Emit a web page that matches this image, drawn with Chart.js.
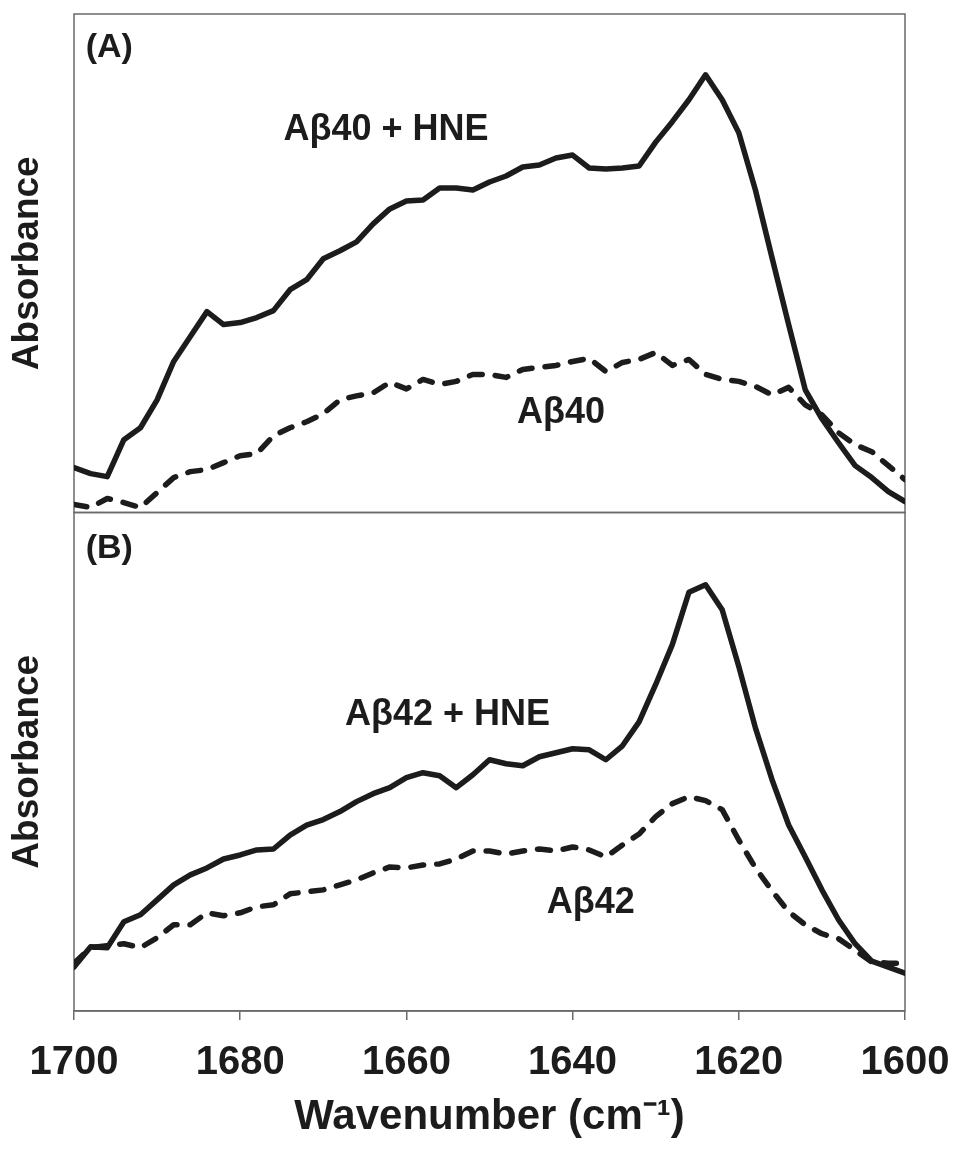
<!DOCTYPE html>
<html>
<head>
<meta charset="utf-8">
<script src="https://cdn.jsdelivr.net/npm/chart.js@4.4.1/dist/chart.umd.min.js"></script>
<style>
  html, body { margin: 0; padding: 0; background: #ffffff; }
  #c { display: block; }
</style>
</head>
<body>
<canvas id="c" width="953" height="1151"></canvas>
<script>
// ---- data (absorbance in arbitrary units, 0-100 per panel) ----
const wavenumbers = [1700,1698,1696,1694,1692,1690,1688,1686,1684,1682,1680,1678,1676,1674,1672,1670,1668,1666,1664,1662,1660,1658,1656,1654,1652,1650,1648,1646,1644,1642,1640,1638,1636,1634,1632,1630,1628,1626,1624,1622,1620,1618,1616,1614,1612,1610,1608,1606,1604,1602,1600];

// Panel A
const ab40HNE = [9.0,7.8,7.2,14.6,17.0,22.6,30.3,35.3,40.3,37.7,38.1,39.1,40.5,44.7,46.7,50.9,52.5,54.3,57.9,60.9,62.5,62.7,65.1,65.1,64.7,66.3,67.5,69.3,69.7,71.1,71.7,69.1,68.9,69.1,69.5,74.3,78.4,82.8,87.8,82.8,76.2,64.7,51.1,37.7,24.6,18.8,14.0,9.4,7.0,4.2,2.2];
const ab40 = [1.6,1.0,2.8,2.0,1.0,4.0,7.0,8.2,8.6,10.0,11.4,11.8,15.4,17.0,18.2,19.8,22.6,23.4,24.0,26.1,24.8,26.7,25.7,26.3,27.7,27.7,27.1,28.7,29.1,29.5,30.3,30.9,28.3,30.1,30.7,32.1,29.5,30.7,27.7,26.7,26.3,25.3,23.6,25.1,21.6,19.6,16.0,13.6,12.2,9.4,6.6];

// Panel B
const ab42HNE = [8.8,12.9,12.7,17.9,19.3,22.3,25.3,27.3,28.7,30.5,31.3,32.3,32.5,35.3,37.3,38.4,40.0,42.0,43.6,44.8,46.8,47.8,47.2,44.8,47.4,50.4,49.6,49.2,51.0,51.8,52.6,52.4,50.4,53.2,58.0,65.5,73.5,84.0,85.5,80.5,69.1,56.8,46.4,37.3,30.9,24.3,18.3,13.5,10.0,8.8,7.6];
const ab42 = [9.6,12.7,13.1,13.5,12.7,14.7,17.3,17.3,19.7,19.1,19.7,20.9,21.3,23.5,23.9,24.3,25.3,26.3,27.7,28.9,28.7,29.3,29.5,30.5,32.1,32.1,31.5,32.1,32.5,32.1,32.9,32.3,30.9,33.3,35.5,39.0,41.6,43.0,42.2,40.4,34.3,28.7,24.1,19.9,17.3,15.5,14.5,12.2,9.8,9.6,9.6];

const xTickValues = [1700, 1680, 1660, 1640, 1620, 1600];
const panelLabels = ['(A)', '(B)'];
const seriesLabels = ['A\u03B240 + HNE', 'A\u03B240', 'A\u03B242 + HNE', 'A\u03B242'];

// ---- styling / layout ----
const FONT = '"Liberation Sans", Arial, Helvetica, sans-serif';
const INK = '#1c1c1c';
const FRAME = '#6a6a6a';

function pts(arr) { return wavenumbers.map((w, i) => ({ x: w, y: arr[i] })); }

// text annotations placed in data coordinates of each panel
const annotations = [
  { text: panelLabels[0], axis: 'yA', w: 1698.6, v: 93.2, size: 34 },
  { text: panelLabels[1], axis: 'yB', w: 1698.6, v: 92.8, size: 34 },
  { text: seriesLabels[0], axis: 'yA', w: 1674.8, v: 76.8, size: 36 },
  { text: seriesLabels[1], axis: 'yA', w: 1646.7, v: 20.0, size: 36 },
  { text: seriesLabels[2], axis: 'yB', w: 1667.4, v: 59.4, size: 36 },
  { text: seriesLabels[3], axis: 'yB', w: 1643.1, v: 21.7, size: 36 }
];

const framePlugin = {
  id: 'frame',
  beforeDatasetsDraw(chart) {
    const { ctx, chartArea } = chart;
    ctx.save();
    ctx.strokeStyle = FRAME;
    ctx.lineWidth = 1.5;
    ['yA', 'yB'].forEach(id => {
      const s = chart.scales[id];
      ctx.strokeRect(chartArea.left, s.top, chartArea.right - chartArea.left, s.bottom - s.top);
    });
    ctx.restore();
  }
};

const textPlugin = {
  id: 'texts',
  afterDatasetsDraw(chart) {
    const { ctx } = chart;
    const x = chart.scales.x;
    ctx.save();
    ctx.fillStyle = INK;
    ctx.textAlign = 'left';
    ctx.textBaseline = 'middle';
    annotations.forEach(a => {
      ctx.font = 'bold ' + a.size + 'px ' + FONT;
      ctx.fillText(a.text, x.getPixelForValue(a.w), chart.scales[a.axis].getPixelForValue(a.v));
    });
    ctx.restore();
  }
};

function yAxis() {
  return {
    type: 'linear',
    position: 'left',
    stack: 'panels',
    stackWeight: 1,
    min: 0,
    max: 100,
    ticks: { display: false },
    grid: { display: false },
    border: { display: false },
    title: {
      display: true,
      text: 'Absorbance',
      color: INK,
      font: { family: FONT, size: 37, weight: 'bold' },
      padding: { top: 6, bottom: 0 }
    },
    afterFit(scale) { scale.width = 74; scale.paddingTop = 0; scale.paddingBottom = 0; }
  };
}

const lineCommon = {
  borderColor: INK,
  borderWidth: 5.5,
  pointRadius: 0,
  tension: 0,
  fill: false,
  borderCapStyle: 'round',
  borderJoinStyle: 'round',
  xAxisID: 'x'
};

new Chart(document.getElementById('c'), {
  type: 'line',
  data: {
    datasets: [
      Object.assign({ label: seriesLabels[0], data: pts(ab40HNE), yAxisID: 'yA' }, lineCommon),
      Object.assign({ label: seriesLabels[1], data: pts(ab40), yAxisID: 'yA', borderDash: [13, 13] }, lineCommon),
      Object.assign({ label: seriesLabels[2], data: pts(ab42HNE), yAxisID: 'yB' }, lineCommon),
      Object.assign({ label: seriesLabels[3], data: pts(ab42), yAxisID: 'yB', borderDash: [13, 13] }, lineCommon)
    ]
  },
  options: {
    responsive: false,
    animation: false,
    devicePixelRatio: 1,
    layout: { padding: { top: 14, right: 48, left: 0, bottom: 0 } },
    plugins: { legend: { display: false }, tooltip: { enabled: false } },
    scales: {
      x: {
        type: 'linear',
        position: 'bottom',
        reverse: true,
        min: 1600,
        max: 1700,
        afterBuildTicks(scale) { scale.ticks = xTickValues.map(v => ({ value: v })); },
        ticks: {
          color: INK,
          font: { family: FONT, size: 40, weight: 'bold' },
          padding: 19,
          maxRotation: 0,
          autoSkip: false,
          callback: (v) => String(v)
        },
        grid: { display: true, drawOnChartArea: false, drawTicks: true, tickLength: 9, color: FRAME, lineWidth: 1.5 },
        border: { display: true, color: FRAME, width: 1.5 },
        title: {
          display: true,
          text: 'Wavenumber (cm\u207B\u00B9)',
          color: INK,
          font: { family: FONT, size: 42, weight: 'bold' },
          padding: { top: 0, bottom: 8 }
        },
        afterFit(scale) { scale.height = 140; scale.paddingLeft = 0; scale.paddingRight = 0; }
      },
      yB: yAxis(),
      yA: yAxis()
    }
  },
  plugins: [framePlugin, textPlugin]
});
</script>
</body>
</html>
